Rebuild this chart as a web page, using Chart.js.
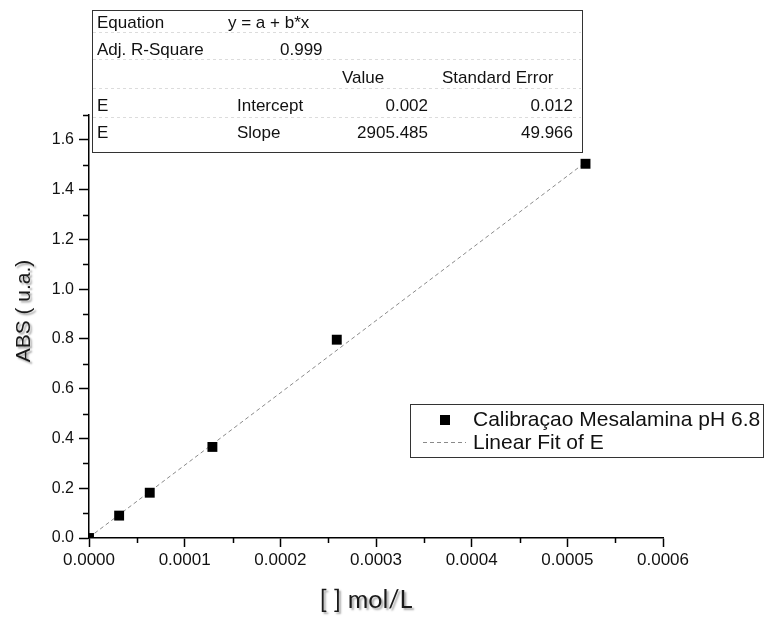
<!DOCTYPE html>
<html>
<head>
<meta charset="utf-8">
<script src="https://cdn.jsdelivr.net/npm/chart.js@4.4.0/dist/chart.umd.min.js"></script>
<style>
  html, body { margin: 0; padding: 0; background: #fff; }
  #grafico { display: block; }
</style>
</head>
<body>
<canvas id="grafico" width="765" height="619"></canvas>
<script>
// Curva de calibração - Mesalamina pH 6.8

// Pontos medidos
var concentracao = [0, 0.0000315, 0.0000635, 0.000129, 0.000259, 0.000519];
var absorbancia = [0, 0.09, 0.182, 0.366, 0.797, 1.504];

// Ajuste linear (valores da tabela)
var intercepto = 0.002;
var inclinacao = 2905.485;
var fitX = [0, 0.00052];

// Marcas dos eixos
var xTicks = [0, 0.0001, 0.0002, 0.0003, 0.0004, 0.0005, 0.0006];
var xMinor = [0.00005, 0.00015, 0.00025, 0.00035, 0.00045, 0.00055];
var yTicks = [0, 0.2, 0.4, 0.6, 0.8, 1.0, 1.2, 1.4, 1.6];
var yMinor = [0.1, 0.3, 0.5, 0.7, 0.9, 1.1, 1.3, 1.5, 1.7];

// Títulos dos eixos
var tituloX = "[ ] mol/L";
var tituloY = "ABS ( u.a.)";

// Textos da tabela e da legenda
var tabEquacao = ["Equation", "y = a + b*x"];
var tabR2 = ["Adj. R-Square", "0.999"];
var tabCabecalho = ["Value", "Standard Error"];
var tabIntercepto = ["E", "Intercept", "0.002", "0.012"];
var tabInclinacao = ["E", "Slope", "2905.485", "49.966"];
var legendaPontos = "Calibraçao Mesalamina pH 6.8";
var legendaAjuste = "Linear Fit of E";

var fonte = "'Liberation Sans', Arial, sans-serif";

// Marcas menores nos eixos
var marcasMenores = {
  id: "marcasMenores",
  afterDraw: function (chart) {
    var ctx = chart.ctx;
    var sx = chart.scales.x;
    var sy = chart.scales.y;
    ctx.save();
    ctx.strokeStyle = "#000";
    ctx.lineWidth = 1.5;
    ctx.beginPath();
    for (var i = 0; i < xMinor.length; i++) {
      var px = Math.round(sx.getPixelForValue(xMinor[i])) + 0.5;
      ctx.moveTo(px, sx.top);
      ctx.lineTo(px, sx.top + 5);
    }
    for (var j = 0; j < yMinor.length; j++) {
      var py = Math.round(sy.getPixelForValue(yMinor[j])) + 0.5;
      ctx.moveTo(sy.right, py);
      ctx.lineTo(sy.right - 6, py);
    }
    ctx.stroke();
    ctx.restore();
  },
};

// Títulos dos eixos (com sombra)
var titulos = {
  id: "titulos",
  afterDraw: function (chart) {
    var ctx = chart.ctx;
    ctx.save();
    ctx.shadowColor = "rgba(0, 0, 0, 0.35)";
    ctx.shadowOffsetX = 2;
    ctx.shadowOffsetY = 2;
    ctx.shadowBlur = 2;
    ctx.fillStyle = "#1a1a1a";
    ctx.textAlign = "center";
    ctx.textBaseline = "middle";

    ctx.font = "25px Lato, 'Open Sans', sans-serif";
    ctx.fillText(tituloX, 366, 600);

    ctx.translate(24, 311);
    ctx.rotate(-Math.PI / 2);
    ctx.font = "21px " + fonte;
    ctx.fillText(tituloY, 0, 0);
    ctx.restore();
  },
};

// Tabela do ajuste e legenda
var caixas = {
  id: "caixas",
  afterDraw: function (chart) {
    var ctx = chart.ctx;
    ctx.save();

    // tabela
    ctx.fillStyle = "#fff";
    ctx.fillRect(92, 10, 490, 142);
    ctx.strokeStyle = "#dcdcdc";
    ctx.lineWidth = 1;
    ctx.setLineDash([3, 3]);
    ctx.beginPath();
    [32, 59, 88, 117].forEach(function (y) {
      ctx.moveTo(93, y + 0.5);
      ctx.lineTo(581, y + 0.5);
    });
    ctx.stroke();
    ctx.setLineDash([]);
    ctx.strokeStyle = "#333";
    ctx.lineWidth = 1;
    ctx.strokeRect(92.5, 10.5, 490, 142);

    ctx.fillStyle = "#111";
    ctx.font = "17px " + fonte;
    ctx.textBaseline = "middle";
    ctx.textAlign = "left";
    ctx.fillText(tabEquacao[0], 97, 23);
    ctx.fillText(tabEquacao[1], 228, 23);
    ctx.fillText(tabR2[0], 97, 50);
    ctx.fillText(tabR2[1], 280, 50);
    ctx.fillText(tabCabecalho[0], 342, 78);
    ctx.fillText(tabCabecalho[1], 442, 78);
    ctx.fillText(tabIntercepto[0], 97, 106);
    ctx.fillText(tabIntercepto[1], 237, 106);
    ctx.fillText(tabInclinacao[0], 97, 133);
    ctx.fillText(tabInclinacao[1], 237, 133);
    ctx.textAlign = "right";
    ctx.fillText(tabIntercepto[2], 428, 106);
    ctx.fillText(tabIntercepto[3], 573, 106);
    ctx.fillText(tabInclinacao[2], 428, 133);
    ctx.fillText(tabInclinacao[3], 573, 133);

    // legenda
    var dsPontos = chart.data.datasets[0];
    var dsAjuste = chart.data.datasets[1];
    ctx.fillStyle = "#fff";
    ctx.fillRect(410, 404, 353, 53);
    ctx.strokeStyle = "#333";
    ctx.strokeRect(410.5, 404.5, 353, 53);
    ctx.fillStyle = dsPontos.backgroundColor;
    ctx.fillRect(440, 415, 10, 10);
    ctx.strokeStyle = dsAjuste.borderColor;
    ctx.setLineDash(dsAjuste.borderDash);
    ctx.beginPath();
    ctx.moveTo(423, 442.5);
    ctx.lineTo(466, 442.5);
    ctx.stroke();
    ctx.setLineDash([]);
    ctx.fillStyle = "#111";
    ctx.font = "21px " + fonte;
    ctx.textAlign = "left";
    ctx.fillText(legendaPontos, 473, 420);
    ctx.fillText(legendaAjuste, 473, 443);

    ctx.restore();
  },
};

var pontos = [];
for (var i = 0; i < concentracao.length; i++) {
  pontos.push({ x: concentracao[i], y: absorbancia[i] });
}
var retaAjuste = [];
for (var k = 0; k < fitX.length; k++) {
  retaAjuste.push({ x: fitX[k], y: intercepto + inclinacao * fitX[k] });
}

var ctx = document.getElementById("grafico").getContext("2d");
var grafico = new Chart(ctx, {
  type: "scatter",
  data: {
    datasets: [
      {
        label: legendaPontos,
        data: pontos,
        pointStyle: "rect",
        pointRadius: 7,
        pointHoverRadius: 7,
        backgroundColor: "#000",
        borderColor: "#000",
        borderWidth: 0,
        clip: 0,
        order: 1,
      },
      {
        label: legendaAjuste,
        type: "line",
        data: retaAjuste,
        showLine: true,
        pointRadius: 0,
        borderColor: "#8a8a8a",
        borderWidth: 1,
        borderDash: [4, 3],
        fill: false,
        order: 2,
      },
    ],
  },
  options: {
    responsive: false,
    animation: false,
    layout: {
      padding: { left: 0, top: 115, right: 102, bottom: 0 },
    },
    plugins: {
      legend: { display: false },
      tooltip: { enabled: false },
    },
    scales: {
      x: {
        type: "linear",
        min: 0,
        max: 0.0006,
        afterBuildTicks: function (scale) {
          scale.ticks = xTicks.map(function (v) { return { value: v }; });
        },
        afterFit: function (scale) {
          scale.height = 81;
        },
        ticks: {
          autoSkip: false,
          maxRotation: 0,
          padding: 3,
          color: "#111",
          font: { family: fonte, size: 17 },
          callback: function (value) {
            return value.toFixed(4);
          },
        },
        grid: {
          drawOnChartArea: false,
          drawTicks: true,
          tickLength: 9,
          tickColor: "#000",
          tickWidth: 1.5,
        },
        border: { display: true, color: "#000", width: 1.5 },
      },
      y: {
        type: "linear",
        min: 0,
        max: 1.7,
        afterBuildTicks: function (scale) {
          scale.ticks = yTicks.map(function (v) { return { value: v }; });
        },
        afterFit: function (scale) {
          scale.width = 89;
        },
        ticks: {
          autoSkip: false,
          padding: 5,
          color: "#111",
          font: { family: fonte, size: 16 },
          callback: function (value) {
            return value.toFixed(1);
          },
        },
        grid: {
          drawOnChartArea: false,
          drawTicks: true,
          tickLength: 10,
          tickColor: "#000",
          tickWidth: 1.5,
        },
        border: { display: true, color: "#000", width: 1.5 },
      },
    },
  },
  plugins: [marcasMenores, titulos, caixas],
});
</script>
</body>
</html>
